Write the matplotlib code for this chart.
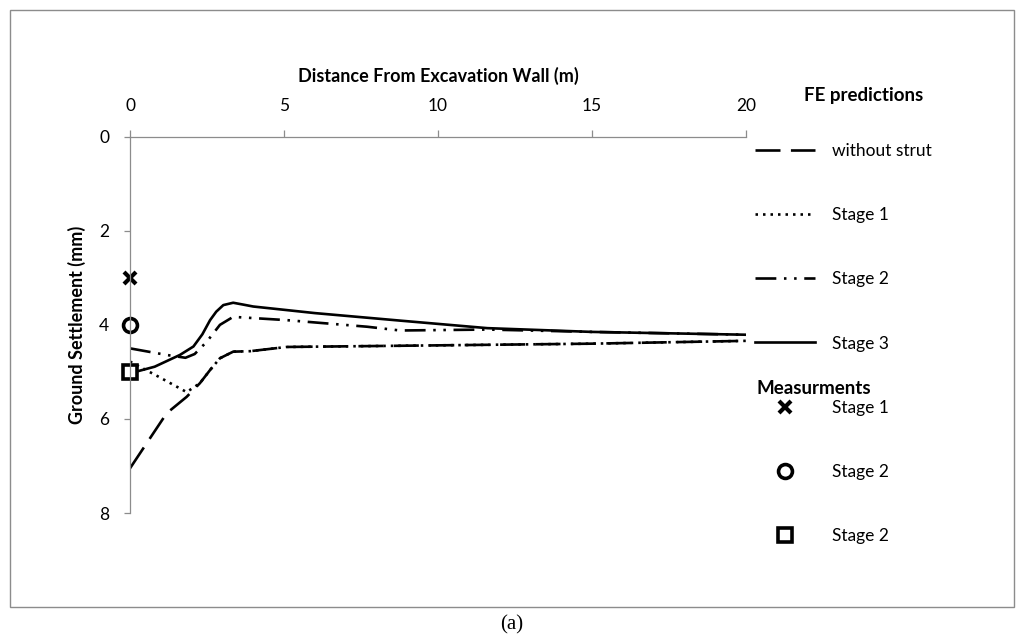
import matplotlib
matplotlib.use('Agg')
import matplotlib.pyplot as plt
from matplotlib.patches import Rectangle

plt.rcParams['font.family'] = ['Lato', 'DejaVu Sans']
plt.rcParams['lines.scale_dashes'] = False

# ---------------- data ----------------
x_without = [0, 0.65, 1.19, 1.84, 2.27, 2.6, 2.92, 3.35, 3.9, 5.09, 9.42, 15, 20]
y_without = [7.05, 6.41, 5.88, 5.53, 5.24, 4.96, 4.71, 4.57, 4.56, 4.47, 4.44, 4.40, 4.34]

x_stage1 = [0, 0.92, 1.84, 2.27, 2.6, 2.92, 3.35, 3.9, 5.09, 9.42, 15, 20]
y_stage1 = [4.78, 5.10, 5.43, 5.24, 4.96, 4.71, 4.57, 4.56, 4.47, 4.44, 4.40, 4.34]

x_stage2 = [0, 1.19, 1.8, 2.1, 2.49, 2.92, 3.35, 5.09, 7.7, 8.77, 11.6, 15, 20]
y_stage2 = [4.50, 4.64, 4.70, 4.62, 4.36, 4.00, 3.83, 3.90, 4.04, 4.12, 4.10, 4.15, 4.21]

x_stage3 = [0, 0.8, 1.62, 2.06, 2.35, 2.6, 2.8, 3.03, 3.35, 3.68, 4.0, 6, 8.77, 11.6, 15, 20]
y_stage3 = [5.03, 4.89, 4.64, 4.46, 4.2, 3.90, 3.72, 3.58, 3.53, 3.57, 3.61, 3.75, 3.91, 4.07, 4.15, 4.21]

meas_x = [0, 0, 0]
meas_y = [3, 4, 5]

fe_labels = ['without strut', 'Stage 1', 'Stage 2', 'Stage 3']
meas_labels = ['Stage 1', 'Stage 2', 'Stage 2']

x_ticks = [0, 5, 10, 15, 20]
y_ticks = [0, 2, 4, 6, 8]

# ---------------- layout ----------------
W, H = 1024, 642
fig = plt.figure(figsize=(W / 100, H / 100), dpi=100)


def fx(px):
    return px / W


def fy(py):
    return 1 - py / H


ax = fig.add_axes([fx(130), fy(513), fx(746) - fx(130), fy(136.7) - fy(513)])
ax.set_xlim(0, 20)
ax.set_ylim(8, 0)
ax.set_xticks(x_ticks)
ax.set_yticks(y_ticks)
ax.xaxis.tick_top()
ax.xaxis.set_label_position('top')

gray = '#8c8c8c'
for s in ['right', 'bottom']:
    ax.spines[s].set_visible(False)
for s in ['top', 'left']:
    ax.spines[s].set_color(gray)
    ax.spines[s].set_linewidth(0.9)

ax.tick_params(axis='x', direction='out', length=5, width=0.9, color=gray,
               pad=11, labelsize=12.5)
ax.tick_params(axis='y', direction='out', length=4, width=0.9, color=gray,
               pad=11, labelsize=12.5)

ax.set_xlabel('Distance From Excavation Wall (m)', fontsize=13, fontweight='bold', labelpad=12)
ax.set_ylabel('Ground Settlement (mm)', fontsize=13, fontweight='bold')
ax.yaxis.set_label_coords(-0.072, 0.5)

lw = 1.9
h1, = ax.plot(x_without, y_without, color='black', lw=lw, dashes=(18, 7.5),
              label=fe_labels[0])
h2, = ax.plot(x_stage1, y_stage1, color='black', lw=lw, dashes=(1.8, 3.6),
              label=fe_labels[1])
h3, = ax.plot(x_stage2, y_stage2, color='black', lw=lw,
              dashes=(15, 5.5, 1.8, 5.5, 1.8, 5.5), label=fe_labels[2])
h4, = ax.plot(x_stage3, y_stage3, color='black', lw=lw, label=fe_labels[3])

m1, = ax.plot(meas_x[0], meas_y[0], linestyle='none', marker='x', ms=9, mew=3,
              color='black', clip_on=False, label=meas_labels[0])
m2, = ax.plot(meas_x[1], meas_y[1], linestyle='none', marker='o', ms=10, mew=2.6,
              mfc='white', mec='black', clip_on=False, label=meas_labels[1])
m3, = ax.plot(meas_x[2], meas_y[2], linestyle='none', marker='s', ms=10, mew=2.6,
              mfc='white', mec='black', clip_on=False, label=meas_labels[2])

fs = 12.5
leg = fig.legend([h1, h2, h3, h4, m1, m2, m3],
                 fe_labels + meas_labels,
                 loc='center left', bbox_to_anchor=(fx(755), fy(343.5)),
                 frameon=False, fontsize=fs, borderpad=0, borderaxespad=0,
                 handlelength=3.45, handletextpad=1.0, labelspacing=2.78)

fig.text(fx(864), fy(95), 'FE predictions', fontsize=13.5, fontweight='bold',
         ha='center', va='center')
fig.text(fx(814), fy(388), 'Measurments', fontsize=13.5, fontweight='bold',
         ha='center', va='center')

fig.patches.append(Rectangle((fx(10), fy(607)), fx(1014) - fx(10), fy(10) - fy(607),
                             transform=fig.transFigure, fill=False,
                             edgecolor=gray, lw=1))
fig.text(fx(512), fy(625), '(a)', family='Liberation Serif', fontsize=15,
         ha='center', va='center')

fig.savefig('out.png', dpi=100)
